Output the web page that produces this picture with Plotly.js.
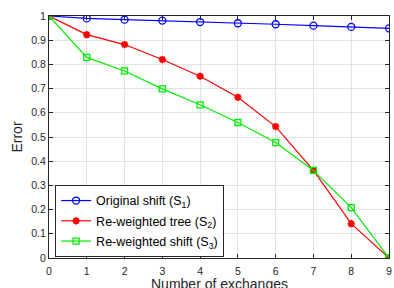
<!DOCTYPE html>
<html><head><meta charset="utf-8">
<script src="https://cdn.plot.ly/plotly-3.0.1.min.js"></script>
<style>html,body{margin:0;padding:0;background:#fff}#c{width:394px;height:288px}</style>
</head><body><div id="c"></div>
<script>
var exchanges = [0,1,2,3,4,5,6,7,8,9];
var originalShift = [1.0,0.990,0.985,0.981,0.975,0.970,0.966,0.960,0.955,0.949];
var reweightedTree = [1.0,0.923,0.882,0.820,0.751,0.664,0.543,0.362,0.142,0.0];
var reweightedShift = [1.0,0.829,0.773,0.699,0.633,0.560,0.477,0.362,0.208,0.0];
var names = ['Original shift (S<sub>1</sub>)','Re-weighted tree (S<sub>2</sub>)','Re-weighted shift (S<sub>3</sub>)'];
var xTicks = [0,1,2,3,4,5,6,7,8,9];
var yTicks = [0,0.1,0.2,0.3,0.4,0.5,0.6,0.7,0.8,0.9,1];
var yTickText = ['0','0.1','0.2','0.3','0.4','0.5','0.6','0.7','0.8','0.9','1'];
var xTitle = 'Number of exchanges';
var yTitle = 'Error';

var fam = 'Liberation Sans, Arial, sans-serif';
var traces = [
 {x:exchanges,y:originalShift,name:names[0],legendgroup:'a',mode:'lines+markers',
  line:{color:'#0000ff',width:1.2},marker:{symbol:'circle-open',size:7,color:'#0000ff',line:{width:1.3}}},
 {x:exchanges,y:reweightedTree,name:names[1],legendgroup:'b',mode:'lines+markers',
  line:{color:'#ff0000',width:1.2},marker:{symbol:'asterisk-open',size:6,color:'#ff0000',line:{width:2,color:'#ff0000'}}},
 {x:exchanges,y:reweightedShift,name:names[2],legendgroup:'c',mode:'lines+markers',
  line:{color:'#00ee00',width:1.2},marker:{symbol:'square-open',size:6,color:'#00ee00',line:{width:1.3}}}
];
var axFont = {family:fam,size:10.5,color:'#262626'};
var layout = {
 width:394,height:288,
 margin:{l:49,r:5,t:16,b:30},
 paper_bgcolor:'#fff',plot_bgcolor:'#fff',
 showlegend:true,
 legend:{x:0.018,y:0.302,xanchor:'left',yanchor:'top',bgcolor:'#fff',bordercolor:'#262626',borderwidth:1,
   font:{family:fam,size:12.5,color:'#000'},tracegroupgap:1,itemwidth:30},
 xaxis:{range:[0,9],tickvals:xTicks,ticktext:xTicks.map(String),showgrid:true,gridcolor:'#e3e3e3',gridwidth:1,
   zeroline:false,showline:true,linecolor:'#262626',linewidth:1,mirror:'ticks',ticks:'inside',ticklen:4,tickcolor:'#262626',
   ticklabelstandoff:3,tickfont:axFont},
 yaxis:{range:[0,1],tickvals:yTicks,ticktext:yTickText,showgrid:true,gridcolor:'#e3e3e3',gridwidth:1,
   zeroline:false,showline:true,linecolor:'#262626',linewidth:1,mirror:'ticks',ticks:'inside',ticklen:4,tickcolor:'#262626',
   tickfont:axFont,title:{text:yTitle,font:{family:fam,size:14,color:'#262626'},standoff:5}},
 annotations:[{text:xTitle,xref:'paper',yref:'paper',x:0.5,y:0,xanchor:'center',yanchor:'middle',yshift:-26,
   showarrow:false,font:{family:fam,size:14,color:'#262626'}}]
};
Plotly.newPlot('c',traces,layout,{displayModeBar:false,staticPlot:true});
</script></body></html>
